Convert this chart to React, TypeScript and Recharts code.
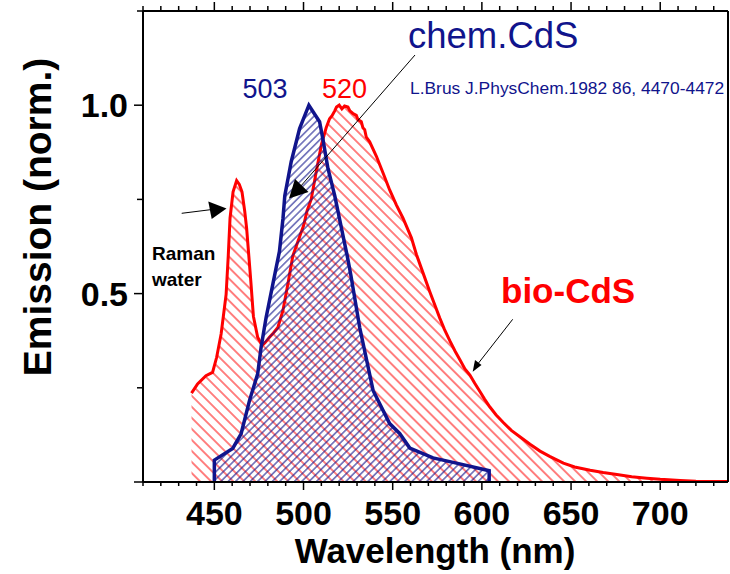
import { Area, ComposedChart, XAxis, YAxis } from 'recharts';

// bio-CdS emission spectrum (red)
const bioWavelength = [
  437.2, 440.6, 445.3, 449, 451.3, 453.8, 456.6, 457.8, 458.8, 460.5, 462.5, 464, 465.5, 467, 468.1,
  469.5, 470.5, 471.9, 474.3, 476.8, 478.5, 480.9, 483, 485.6, 488.4, 491.2, 494, 497, 500, 502,
  504.3, 507, 510, 512.7, 514.6, 516, 517.5, 518.5, 520, 521.5, 523, 524.9, 526, 527.7, 529.6,
  530.5, 532.4, 533.3, 534.3, 535.2, 537.1, 540.8, 544.6, 548.3, 552.1, 555.8, 560.5, 563.3, 567,
  570.8, 574, 576.4, 579, 582, 585, 587.6, 590.5, 593.3, 596, 598.9, 601.5, 604.5, 608, 612, 616.5,
  621.3, 627, 632.6, 638, 645.7, 652, 660.7, 668, 675.7, 684, 692.5, 700, 711.2, 720, 730, 738,
];
const bioEmission = [
  0.236, 0.26, 0.282, 0.291, 0.331, 0.393, 0.498, 0.6, 0.7, 0.77, 0.8, 0.79, 0.77, 0.72, 0.674,
  0.59, 0.53, 0.44, 0.384, 0.362, 0.37, 0.384, 0.395, 0.41, 0.454, 0.525, 0.6, 0.64, 0.68, 0.72,
  0.75, 0.82, 0.895, 0.94, 0.964, 0.972, 0.985, 0.995, 1.0, 0.99, 0.998, 0.995, 0.985, 0.978, 0.973,
  0.962, 0.956, 0.94, 0.935, 0.915, 0.903, 0.865, 0.82, 0.775, 0.735, 0.7, 0.648, 0.604, 0.555,
  0.505, 0.465, 0.435, 0.405, 0.375, 0.347, 0.325, 0.3, 0.284, 0.262, 0.24, 0.22, 0.199, 0.178, 0.158, 0.137,
  0.12, 0.1, 0.082, 0.068, 0.05, 0.04, 0.031, 0.025, 0.02, 0.014, 0.01, 0.007, 0.004, 0.002, 0.001, 0.001,
];

// chem.CdS reference spectrum (navy), closed down to the axis at both ends
const chemWavelength = [
  450, 450, 460.3, 465, 469.7, 474.3, 476.2, 479, 482.8, 486.5, 488.5, 489.5, 493.1, 497.8, 503,
  509, 510.8, 513.7, 517.5, 521, 524.5, 526.5, 531.5, 539, 548.3, 553.9, 559.6, 572.6, 587.6, 604.1, 604.1,
];
const chemEmission = [
  0, 0.058, 0.089, 0.128, 0.216, 0.287, 0.357, 0.436, 0.525, 0.612, 0.7, 0.76, 0.85, 0.938, 1.0,
  0.956, 0.912, 0.832, 0.76, 0.68, 0.6, 0.55, 0.41, 0.243, 0.155, 0.129, 0.09, 0.064, 0.048, 0.03, 0,
];

const xTicks = [
  410, 420, 430, 440, 450, 460, 470, 480, 490, 500, 510, 520, 530, 540, 550, 560, 570,
  580, 590, 600, 610, 620, 630, 640, 650, 660, 670, 680, 690, 700, 710, 720, 730,
];
const xLabels = [450, 500, 550, 600, 650, 700];
const yTicks = [0, 0.25, 0.5, 0.75, 1.0, 1.25];
const yLabels = [0.5, 1.0];

const RED = '#ff0000';
const NAVY = '#10148c';
const FONT = '"Liberation Sans", Arial, sans-serif';

type Row = { nm: number; bio?: number; chem?: number };
const rows: Row[] = [
  ...bioWavelength.map((nm, i) => ({ nm, bio: bioEmission[i] })),
  ...chemWavelength.map((nm, i) => ({ nm, chem: chemEmission[i] })),
].sort((a, b) => a.nm - b.nm);

const isMajorX = (v: number) => v % 50 === 0;
const isMajorY = (v: number) => Math.abs((v * 2) % 1) < 1e-6;

const BottomTick = ({ x, y, payload }: any) => {
  const v = payload.value;
  return (
    <g>
      <line x1={x} x2={x} y1={y} y2={y + (isMajorX(v) ? 8 : 4)} stroke="#000" strokeWidth={1.5} />
      {xLabels.includes(v) && (
        <text x={x} y={y + 43} textAnchor="middle" fontFamily={FONT} fontWeight="bold" fontSize={34} fill="#000">
          {v}
        </text>
      )}
    </g>
  );
};

const TopTick = ({ x, y, payload }: any) => (
  <line x1={x} x2={x} y1={y} y2={y - (isMajorX(payload.value) ? 9 : 5)} stroke="#000" strokeWidth={1.5} />
);

const LeftTick = ({ x, y, payload }: any) => {
  const v = payload.value;
  return (
    <g>
      <line x1={x} x2={x - (isMajorY(v) ? 9 : 6)} y1={y} y2={y} stroke="#000" strokeWidth={1.5} />
      {yLabels.includes(v) && (
        <text x={x - 15} y={y} textAnchor="end" dominantBaseline="central" fontFamily={FONT} fontWeight="bold" fontSize={34} fill="#000">
          {v.toFixed(1)}
        </text>
      )}
    </g>
  );
};

const axisLine = { stroke: '#000', strokeWidth: 2 };

export default function App() {
  return (
    <div style={{ position: 'absolute', left: 0, top: 0, width: 730, height: 574, background: '#fff' }}>
      <ComposedChart width={730} height={574} data={rows} margin={{ top: 0, right: 0, bottom: 0, left: 0 }}>
        <defs>
          <pattern id="bioHatch" patternUnits="userSpaceOnUse" width={8} height={7.8} patternTransform="rotate(45)">
            <line x1={0} x2={8} y1={3.9} y2={3.9} stroke={RED} strokeWidth={1} />
          </pattern>
          <pattern id="chemHatch" patternUnits="userSpaceOnUse" width={8} height={5.2} patternTransform="rotate(-45)">
            <line x1={0} x2={8} y1={2.6} y2={2.6} stroke={NAVY} strokeWidth={1} />
          </pattern>
        </defs>
        <XAxis
          dataKey="nm"
          type="number"
          domain={[410, 738]}
          allowDataOverflow
          ticks={xTicks}
          interval={0}
          height={92}
          tickSize={0}
          tickMargin={0}
          tickLine={false}
          axisLine={axisLine}
          tick={<BottomTick />}
        />
        <XAxis
          xAxisId="top"
          orientation="top"
          dataKey="nm"
          type="number"
          domain={[410, 738]}
          allowDataOverflow
          ticks={xTicks}
          interval={0}
          height={11}
          tickSize={0}
          tickMargin={0}
          tickLine={false}
          axisLine={axisLine}
          tick={<TopTick />}
        />
        <YAxis
          type="number"
          domain={[0, 1.25]}
          allowDataOverflow
          ticks={yTicks}
          interval={0}
          width={143}
          tickSize={0}
          tickMargin={0}
          tickLine={false}
          axisLine={axisLine}
          tick={<LeftTick />}
        />
        <YAxis yAxisId="right" orientation="right" type="number" domain={[0, 1]} width={2} tick={false} tickLine={false} axisLine={axisLine} />
        <Area
          dataKey="bio"
          type="linear"
          connectNulls
          baseValue={0}
          stroke={RED}
          strokeWidth={3}
          fill="url(#bioHatch)"
          fillOpacity={1}
          dot={false}
          activeDot={false}
          isAnimationActive={false}
        />
        <Area
          dataKey="chem"
          type="linear"
          connectNulls
          baseValue={0}
          stroke={NAVY}
          strokeWidth={3.5}
          fill="url(#chemHatch)"
          fillOpacity={1}
          dot={false}
          activeDot={false}
          isAnimationActive={false}
        />
      </ComposedChart>
      <svg width={730} height={574} style={{ position: 'absolute', left: 0, top: 0, pointerEvents: 'none' }}>
        <text transform="translate(37,217) rotate(-90)" textAnchor="middle" dominantBaseline="central" fontFamily={FONT} fontWeight="bold" fontSize={39} fill="#000">
          Emission (norm.)
        </text>
        <text x={435} y={563} textAnchor="middle" fontFamily={FONT} fontWeight="bold" fontSize={35} fill="#000">
          Wavelength (nm)
        </text>

        <text x={408} y={48} fontFamily={FONT} fontSize={36.5} fill={NAVY}>chem.CdS</text>
        <text x={410} y={94} fontFamily={FONT} fontSize={17.4} fill={NAVY}>L.Brus J.PhysChem.1982 86, 4470-4472</text>
        <text x={265} y={98} textAnchor="middle" fontFamily={FONT} fontSize={27} fill={NAVY}>503</text>
        <text x={344.5} y={98} textAnchor="middle" fontFamily={FONT} fontSize={27} fill={RED}>520</text>
        <text x={501} y={303} fontFamily={FONT} fontWeight="bold" fontSize={35} fill={RED}>bio-CdS</text>
        <text x={152} y={260} fontFamily={FONT} fontWeight="bold" fontSize={19} fill="#000">Raman</text>
        <text x={152} y={286} fontFamily={FONT} fontWeight="bold" fontSize={19} fill="#000">water</text>

        {/* pointer to the Raman water line */}
        <line x1={181.7} y1={213.3} x2={212} y2={209.5} stroke="#000" strokeWidth={1} />
        <polygon points="208.3,201.5 211.7,219 226.5,208.5" fill="#000" />
        {/* pointer to the chem.CdS band */}
        <line x1={415} y1={55} x2={300} y2={187} stroke="#000" strokeWidth={1} />
        <polygon points="295,179 308.5,192 289,198.5" fill="#000" />
        {/* pointer to the bio-CdS tail */}
        <line x1={512.7} y1={319.3} x2={477} y2={365} stroke="#000" strokeWidth={1} />
        <polygon points="475,360 481.5,365 472.7,371.7" fill="#000" />
      </svg>
    </div>
  );
}
